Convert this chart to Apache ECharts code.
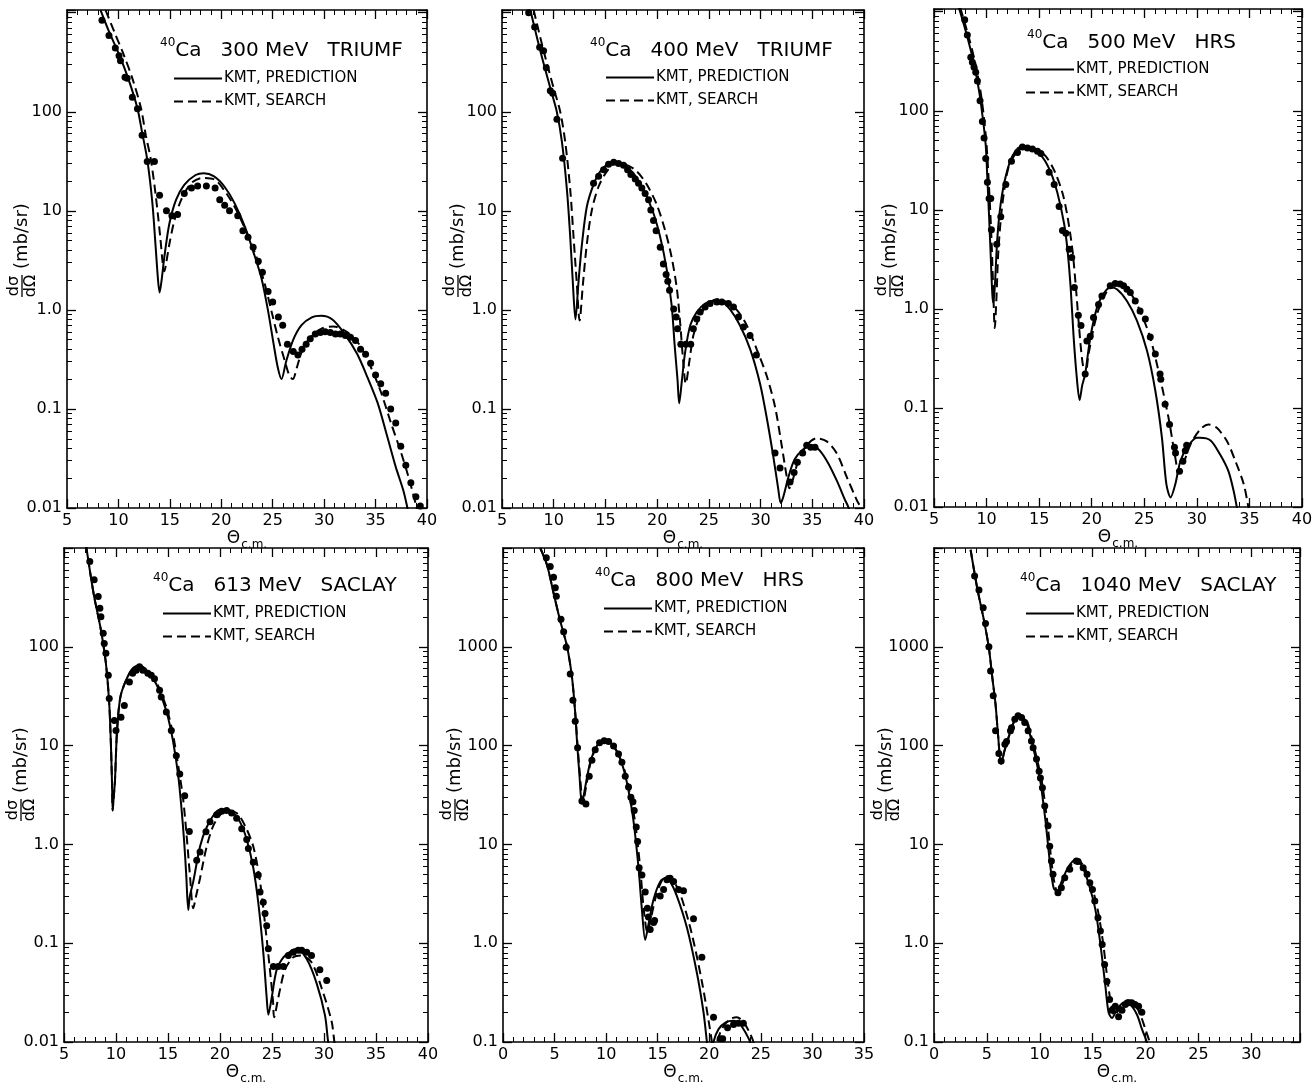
<!DOCTYPE html>
<html><head><meta charset="utf-8">
<script src="https://cdn.jsdelivr.net/npm/echarts@6/dist/echarts.min.js"></script>
<style>html,body{margin:0;padding:0;background:#fff}#c{width:1314px;height:1082px}</style>
</head><body><div id="c"></div>
<script>
// ---------- DATA (theta_cm [deg], dsigma/dOmega [mb/sr]) ----------
const p1Pred = [[8.26,1064],[9.1,640],[10.06,380],[11.0,210],[11.85,108],[12.3,62],[12.8,33],[13.3,12],[13.6,4.6],[13.85,2.0],[14.0,1.5],[14.2,2.0],[14.46,3.4],[14.95,7.4],[15.6,12.9],[16.4,18.3],[17.5,23],[18.3,24],[19.3,22.3],[20.3,17.6],[21.3,11.9],[22.3,6.9],[23.1,3.9],[23.9,2.1],[24.57,0.95],[25.06,0.47],[25.5,0.26],[25.85,0.2],[26.3,0.3],[27.0,0.5],[27.8,0.7],[28.8,0.84],[29.7,0.87],[30.8,0.8],[32.0,0.57],[33.2,0.36],[34.2,0.21],[35.2,0.115],[36.15,0.052],[36.96,0.026],[37.7,0.015],[38.1,0.01],[38.3,0.008]];
const p1Search = [[8.75,1064],[9.6,640],[10.5,380],[11.4,210],[12.2,108],[12.66,58],[13.15,33],[13.64,13.9],[14.07,5.4],[14.3,3.0],[14.46,2.45],[14.65,3.0],[14.95,4.6],[15.44,8],[16.1,12.9],[17.07,19],[18.2,21.5],[19.35,20.7],[20.5,15],[21.5,10],[22.45,6.1],[23.43,3.4],[24.24,1.8],[24.9,0.95],[25.55,0.51],[26.2,0.3],[26.6,0.22],[26.95,0.2],[27.34,0.26],[27.83,0.38],[28.65,0.53],[29.8,0.65],[30.9,0.68],[32.2,0.6],[33.4,0.45],[34.5,0.27],[35.5,0.15],[36.5,0.072],[37.45,0.037],[38.3,0.019],[39.0,0.01],[39.2,0.008]];
const p1Data = [[8.4,841],[9.08,590],[9.7,440],[10.06,367],[10.2,327],[10.64,223],[10.85,218],[11.35,140],[11.85,107],[12.3,58],[12.8,31.5],[13.5,31.5],[14.0,14.4],[14.67,10],[15.2,8.9],[15.75,9.2],[16.4,15],[17.1,17],[17.7,17.8],[18.55,17.8],[19.4,17],[19.85,12.9],[20.33,11.4],[20.8,10],[21.6,8.9],[22.1,6.3],[22.6,5.4],[23.1,4.3],[23.6,3.1],[24.0,2.4],[24.55,1.53],[25.0,1.2],[25.55,0.85],[25.97,0.70],[26.43,0.45],[27.0,0.38],[27.45,0.35],[27.85,0.40],[28.25,0.45],[28.65,0.51],[29.14,0.57],[29.63,0.59],[30.1,0.60],[30.6,0.59],[31.1,0.57],[31.58,0.57],[32.07,0.55],[32.56,0.53],[33.05,0.49],[33.54,0.40],[34.03,0.356],[34.52,0.29],[35.0,0.22],[35.5,0.18],[35.98,0.144],[36.47,0.1],[36.96,0.072],[37.45,0.042],[37.94,0.027],[38.43,0.018],[38.92,0.013],[39.35,0.0105]];

const p2Pred = [[7.74,1064],[8.7,413],[9.67,174],[10.3,100],[10.8,49],[11.28,16.2],[11.6,5.4],[11.86,1.8],[12.1,0.8],[12.4,1.94],[12.73,4.6],[13.2,11],[13.85,18.4],[14.5,25],[15.46,30.6],[15.95,31],[16.75,29.5],[17.7,24],[18.7,16.3],[19.65,9.4],[20.3,5.4],[20.9,2.66],[21.4,1.12],[21.7,0.43],[21.97,0.197],[22.13,0.114],[22.4,0.197],[22.7,0.37],[23.2,0.70],[23.83,0.95],[24.64,1.16],[25.44,1.22],[26.25,1.2],[27.05,1.01],[28.0,0.70],[29.0,0.40],[29.95,0.18],[30.6,0.081],[31.24,0.0327],[31.7,0.0158],[31.95,0.0112],[32.2,0.013],[32.7,0.0207],[33.3,0.031],[34.1,0.039],[34.8,0.042],[35.5,0.040],[36.4,0.03],[37.36,0.019],[38.16,0.0121],[38.5,0.0101],[38.7,0.008]];
const p2Search = [[8.06,1064],[9.02,413],[9.99,174],[10.63,100],[11.12,49],[11.6,16.2],[11.92,5.4],[12.24,1.8],[12.5,0.78],[12.82,1.8],[13.2,4.6],[13.69,10.2],[14.34,17.6],[15.14,25],[15.95,30],[16.9,29.5],[18.04,25],[19.0,18.4],[19.97,11.5],[20.78,6.3],[21.4,3.4],[21.9,1.66],[22.22,0.75],[22.48,0.34],[22.77,0.18],[23.13,0.31],[23.5,0.55],[24.16,0.88],[24.96,1.16],[25.77,1.28],[26.73,1.2],[27.7,1.0],[28.66,0.70],[29.63,0.40],[30.6,0.215],[31.4,0.105],[32.04,0.043],[32.53,0.0207],[32.78,0.0158],[33.1,0.019],[33.65,0.030],[34.46,0.043],[35.42,0.0505],[36.4,0.047],[37.36,0.0357],[38.32,0.0207],[39.29,0.0121],[39.67,0.0101],[39.9,0.008]];
const p2Data = [[7.58,1000],[8.16,718],[8.64,448],[9.02,413],[9.28,279],[9.67,163],[9.9,154],[10.31,84],[10.86,34],[13.85,19],[14.34,22.3],[14.82,26],[15.3,29.5],[15.8,31],[16.27,30],[16.75,28.8],[17.14,26],[17.46,23.2],[17.88,21],[18.2,19],[18.52,17],[18.84,15],[19.17,12.9],[19.39,10.2],[19.65,8],[19.9,6.3],[20.3,4.3],[20.6,2.9],[20.87,2.27],[21.03,1.95],[21.2,1.58],[21.6,1.02],[21.84,0.85],[21.97,0.645],[22.29,0.45],[22.77,0.45],[23.25,0.45],[23.5,0.645],[23.83,0.81],[24.16,0.95],[24.64,1.07],[25.12,1.16],[25.77,1.2],[26.25,1.2],[26.89,1.16],[27.38,1.07],[27.86,0.85],[28.34,0.67],[28.98,0.55],[29.6,0.35],[31.4,0.036],[31.88,0.0253],[32.85,0.0183],[33.24,0.0228],[33.56,0.0289],[34.07,0.036],[34.46,0.043],[34.85,0.041],[35.26,0.041]];

const p3Pred = [[7.38,1090],[8.17,557],[8.81,295],[9.29,158],[9.6,91],[9.92,45],[10.08,20],[10.24,8.6],[10.4,3.3],[10.55,1.39],[10.65,1.15],[10.81,1.9],[11.03,5.3],[11.35,11.7],[11.83,22],[12.46,35],[13.41,44],[14.36,41],[15.31,34],[16.11,23.8],[16.74,14.8],[17.38,7.2],[17.7,3.9],[18.0,1.62],[18.27,0.54],[18.55,0.22],[18.85,0.12],[19.1,0.17],[19.38,0.22],[19.86,0.51],[20.5,1.03],[21.1,1.41],[21.76,1.64],[22.4,1.58],[23.35,1.2],[24.3,0.76],[25.26,0.377],[26.05,0.149],[26.68,0.05],[27.1,0.017],[27.5,0.0125],[27.95,0.017],[28.43,0.029],[29.07,0.04],[30.0,0.05],[30.3,0.05],[31.3,0.047],[32.2,0.034],[33.0,0.023],[33.5,0.0145],[33.8,0.01],[34.0,0.008]];
const p3Search = [[7.5,1090],[8.3,557],[8.95,295],[9.42,158],[9.72,91],[10.0,45],[10.24,16.5],[10.46,5.3],[10.63,1.6],[10.78,0.64],[10.94,1.3],[11.1,3.5],[11.35,8],[11.67,15.5],[12.14,28],[12.94,39],[13.73,44],[14.68,41],[15.6,35],[16.43,25],[17.22,14.8],[17.7,8.5],[18.17,3.9],[18.5,1.62],[18.8,0.65],[19.1,0.3],[19.4,0.21],[19.7,0.35],[20.5,0.88],[21.3,1.41],[22.1,1.78],[22.9,1.78],[23.67,1.46],[24.6,0.95],[25.57,0.51],[26.5,0.2],[27.3,0.08],[27.95,0.0315],[28.27,0.022],[28.7,0.027],[29.4,0.043],[30.33,0.061],[31.1,0.068],[31.9,0.063],[32.87,0.046],[33.67,0.029],[34.46,0.017],[34.9,0.01],[35.1,0.008]];
const p3Data = [[7.92,828],[8.17,581],[8.5,347],[8.65,309],[8.81,275],[8.97,245],[9.13,200],[9.38,126],[9.6,78],[9.76,53],[9.92,33],[10.08,19],[10.24,13],[10.4,13],[10.46,6.3],[10.97,4.5],[11.35,8.5],[11.83,18],[12.37,31],[12.94,38],[13.41,43],[13.89,42],[14.36,41],[14.84,39],[15.16,37],[15.95,24],[16.43,18],[16.9,10.8],[17.22,6.2],[17.54,5.8],[17.86,4.0],[18.1,3.3],[18.35,1.64],[18.73,0.86],[18.98,0.68],[19.38,0.22],[19.54,0.475],[19.86,0.53],[20.17,0.82],[20.65,1.11],[20.97,1.35],[21.76,1.71],[22.24,1.8],[22.7,1.78],[23.03,1.71],[23.35,1.58],[23.67,1.46],[24.14,1.2],[24.6,0.95],[25.1,0.79],[25.57,0.52],[26.05,0.35],[26.5,0.22],[26.57,0.195],[26.98,0.109],[27.4,0.068],[27.87,0.04],[27.97,0.035],[28.35,0.023],[28.67,0.029],[28.9,0.037],[29.03,0.042]];

const p4Pred = [[7.1,1100],[7.5,580],[7.9,322],[8.55,148],[9.03,68],[9.35,26.5],[9.52,9.6],[9.62,4],[9.68,2.2],[9.78,3.0],[9.9,4.4],[10.1,14.2],[10.42,31],[10.97,46],[11.6,60],[12.26,65],[13.06,56],[13.87,42],[14.5,28.7],[15.0,19.4],[15.48,11.2],[15.97,5.1],[16.29,2.36],[16.55,1.08],[16.75,0.5],[16.95,0.217],[17.1,0.3],[17.43,0.42],[18.08,0.95],[18.72,1.49],[19.68,2.16],[20.32,2.25],[21.12,2.16],[21.92,1.69],[22.57,1.12],[23.2,0.58],[23.68,0.257],[24.16,0.081],[24.49,0.028],[24.65,0.0189],[24.97,0.028],[25.45,0.054],[26.09,0.072],[26.73,0.082],[27.37,0.088],[28.34,0.069],[29.3,0.039],[30.1,0.0185],[30.4,0.01],[30.6,0.008]];
const p4Search = [[7.1,1100],[7.5,580],[7.9,322],[8.55,148],[9.03,68],[9.35,26.5],[9.52,9.6],[9.62,4],[9.68,2.2],[9.78,3.0],[9.9,4.4],[10.1,14.2],[10.42,31],[10.97,46],[11.6,60],[12.26,64],[13.06,57],[13.87,44],[14.5,31],[15.0,21.5],[15.48,13],[15.97,6.4],[16.45,2.9],[16.8,1.2],[17.1,0.5],[17.43,0.226],[17.7,0.3],[18.08,0.455],[18.72,0.95],[19.36,1.55],[20.16,2.08],[20.6,2.2],[21.6,2.08],[22.4,1.55],[23.2,0.95],[23.85,0.42],[24.33,0.157],[24.8,0.054],[25.1,0.0257],[25.2,0.0178],[25.6,0.028],[26.25,0.054],[27.05,0.072],[27.86,0.075],[28.8,0.064],[29.78,0.035],[30.74,0.016],[31.0,0.01],[31.2,0.008]];
const p4Data = [[7.48,731],[7.9,476],[8.29,322],[8.45,245],[8.55,202],[8.77,137],[8.87,108],[9.03,86],[9.26,51.5],[9.35,30],[9.84,18],[10.0,14.2],[10.48,19.4],[10.8,25.5],[11.29,44],[11.6,54],[11.94,58],[12.26,63],[12.58,58],[13.06,54],[13.39,51.5],[13.7,47.6],[14.19,36.3],[14.35,31],[14.84,21.9],[15.32,14.2],[15.8,7.9],[16.13,5.15],[16.61,3.1],[17.05,1.35],[17.76,0.69],[18.08,0.84],[18.65,1.34],[19.04,1.7],[19.68,2.0],[20.16,2.16],[20.64,2.2],[21.12,2.08],[21.6,1.84],[22.09,1.44],[22.57,1.12],[22.73,0.91],[23.2,0.66],[23.68,0.49],[23.85,0.33],[24.16,0.26],[24.33,0.2],[24.49,0.15],[24.65,0.088],[25.13,0.058],[25.6,0.058],[26.09,0.058],[26.57,0.075],[27.05,0.081],[27.53,0.085],[27.85,0.085],[28.34,0.081],[28.8,0.075],[29.6,0.054],[30.26,0.042]];

const p5Pred = [[3.61,10000],[4.26,6760],[4.9,3510],[5.55,1820],[6.2,1020],[6.69,490],[7.0,216],[7.17,112],[7.42,49],[7.65,25.7],[7.97,38],[8.46,68],[9.1,99],[9.75,112],[10.4,107],[11.05,87],[11.69,58],[12.17,35],[12.66,17],[13.14,5.8],[13.47,2.17],[13.79,1.08],[14.11,1.57],[14.6,2.78],[15.24,4.2],[15.73,4.55],[16.2,4.2],[16.86,3.0],[17.83,1.44],[18.8,0.5],[19.44,0.2],[19.77,0.1],[19.95,0.07],[20.2,0.07],[20.4,0.1],[20.9,0.135],[21.6,0.158],[22.35,0.164],[23.0,0.15],[23.6,0.12],[23.96,0.1],[24.1,0.08]];
const p5Search = [[3.61,10000],[4.26,6760],[4.9,3510],[5.55,1820],[6.2,1020],[6.69,490],[7.0,216],[7.2,112],[7.47,49],[7.75,26.5],[8.05,38],[8.5,68],[9.1,99],[9.75,112],[10.4,107],[11.05,87],[11.75,58],[12.25,35],[12.8,17],[13.3,5.8],[13.65,2.17],[14.0,1.3],[14.3,1.7],[14.8,2.9],[15.4,4.3],[16.05,4.8],[16.7,4.0],[17.35,2.8],[18.3,1.25],[19.3,0.4],[19.95,0.16],[20.25,0.1],[20.4,0.07],[20.6,0.07],[20.75,0.1],[21.3,0.14],[22.0,0.17],[22.67,0.178],[23.3,0.16],[23.9,0.125],[24.28,0.1],[24.4,0.08]];
const p5Data = [[4.2,7950],[4.58,6480],[4.9,5070],[5.07,3970],[5.17,3240],[5.62,1900],[5.88,1420],[6.13,990],[6.52,530],[6.78,287],[7.0,176],[7.23,95],[7.65,27.5],[8.04,25.7],[8.36,49],[8.62,71],[8.94,91],[9.36,107],[9.81,112],[10.24,110],[10.72,99],[11.2,82],[11.53,68],[11.85,49],[12.17,38],[12.4,30],[12.6,27],[12.72,22],[12.92,15],[13.05,10.7],[13.2,5.8],[13.47,4.9],[13.79,3.3],[14.0,2.26],[14.1,1.84],[14.27,1.38],[14.6,1.62],[14.7,1.7],[15.24,3.0],[15.57,3.5],[15.89,4.4],[16.2,4.55],[16.54,4.2],[17.02,3.5],[17.5,3.4],[18.47,1.77],[19.28,0.72],[20.41,0.178],[21.06,0.108],[21.3,0.108],[21.77,0.139],[22.35,0.15],[22.83,0.155],[23.3,0.155]];

const p6Pred = [[3.46,9600],[4.09,3900],[4.72,1860],[5.19,970],[5.5,502],[5.82,260],[6.04,135],[6.35,65.5],[6.67,89],[7.08,124],[7.55,173],[8.08,204],[8.65,180],[9.12,124],[9.59,76],[10.06,43],[10.54,17.3],[11.0,6.0],[11.32,3.6],[11.64,3.36],[12.1,4.3],[12.74,6.0],[13.37,7.0],[14.0,6.0],[14.62,4.0],[15.25,2.2],[15.73,0.98],[16.2,0.37],[16.5,0.2],[16.82,0.175],[17.3,0.214],[17.92,0.25],[18.55,0.24],[19.18,0.19],[19.65,0.136],[20.12,0.1],[20.3,0.08]];
const p6Search = [[3.46,9600],[4.09,3900],[4.72,1860],[5.19,970],[5.5,502],[5.82,260],[6.04,135],[6.35,65.5],[6.67,89],[7.08,124],[7.55,173],[8.15,204],[8.75,180],[9.2,124],[9.7,76],[10.2,43],[10.7,17.3],[11.16,6.0],[11.5,3.6],[11.8,3.3],[12.25,4.3],[12.9,6.0],[13.53,7.0],[14.16,6.0],[14.84,4.0],[15.47,2.2],[16.0,0.98],[16.47,0.37],[16.85,0.21],[17.07,0.185],[17.64,0.23],[18.27,0.265],[18.9,0.25],[19.5,0.19],[19.97,0.136],[20.38,0.1],[20.5,0.08]];
const p6Data = [[3.84,5210],[4.25,3750],[4.65,2490],[4.87,1720],[5.19,1000],[5.35,568],[5.6,320],[5.82,141],[6.13,83],[6.35,70],[6.7,103],[6.86,110],[7.23,141],[7.33,152],[7.64,185],[7.95,200],[8.27,192],[8.58,171],[8.9,141],[9.21,111],[9.37,95],[9.69,73],[9.94,55],[10.06,47],[10.25,37.5],[10.47,24.5],[10.78,15.4],[10.94,9.6],[11.1,6.8],[11.25,5.0],[11.72,3.25],[12.04,3.65],[12.36,4.6],[12.83,5.6],[13.46,6.8],[13.62,6.7],[14.1,5.8],[14.47,5.0],[14.73,4.1],[14.98,3.5],[15.2,2.67],[15.5,1.81],[15.73,1.33],[15.9,0.97],[16.13,0.61],[16.35,0.41],[16.6,0.27],[16.82,0.21],[17.14,0.23],[17.45,0.18],[17.77,0.21],[18.08,0.24],[18.4,0.25],[18.7,0.25],[19.0,0.24],[19.34,0.23],[19.65,0.2]];

// tick labels
const yTickValsA = [0.01, 0.1, 1, 10, 100];
const yTickTextA = ['0.01', '0.1', '1.0', '10', '100'];
const yTickValsB = [0.1, 1, 10, 100, 1000];
const yTickTextB = ['0.1', '1.0', '10', '100', '1000'];
const panelTitles = ['300 MeV   TRIUMF', '400 MeV   TRIUMF', '500 MeV   HRS', '613 MeV   SACLAY', '800 MeV   HRS', '1040 MeV   SACLAY'];
const seriesNames = ['KMT, PREDICTION', 'KMT, SEARCH'];

// ---------- LAYOUT ----------
const FONT = '"DejaVu Sans", "Liberation Sans", sans-serif';
const panels = [
  {pred: p1Pred, search: p1Search, data: p1Data, xMin: 5, xMax: 40, yMin: 0.01, yMax: 1065, tv: yTickValsA, tt: yTickTextA,
   grid: {left: 67, top: 10, width: 360, height: 498}, title: [155, 32], legend: [168, 66], yname: [22, 240]},
  {pred: p2Pred, search: p2Search, data: p2Data, xMin: 5, xMax: 40, yMin: 0.01, yMax: 1065, tv: yTickValsA, tt: yTickTextA,
   grid: {left: 502, top: 10, width: 362, height: 498}, title: [585, 32], legend: [600, 65], yname: [458, 240]},
  {pred: p3Pred, search: p3Search, data: p3Data, xMin: 5, xMax: 40, yMin: 0.01, yMax: 1065, tv: yTickValsA, tt: yTickTextA,
   grid: {left: 934, top: 9, width: 368, height: 498}, title: [1022, 24], legend: [1020, 57], yname: [890, 240]},
  {pred: p4Pred, search: p4Search, data: p4Data, xMin: 5, xMax: 40, yMin: 0.01, yMax: 1000, tv: yTickValsA, tt: yTickTextA,
   grid: {left: 64, top: 548, width: 364, height: 494}, title: [148, 567], legend: [157, 601], yname: [21, 764]},
  {pred: p5Pred, search: p5Search, data: p5Data, xMin: 0, xMax: 35, yMin: 0.1, yMax: 10000, tv: yTickValsB, tt: yTickTextB,
   grid: {left: 503, top: 548, width: 361, height: 494}, title: [590, 562], legend: [598, 596], yname: [455, 764]},
  {pred: p6Pred, search: p6Search, data: p6Data, xMin: 0, xMax: 34.6, yMin: 0.1, yMax: 10000, tv: yTickValsB, tt: yTickTextB,
   grid: {left: 934, top: 548, width: 366, height: 494}, title: [1015, 567], legend: [1020, 601], yname: [886, 764]}
];

// minor log ticks at 2..9 x 10^k inside the axis range
function logMinor(lo, hi) {
  const out = [];
  for (let k = Math.floor(Math.log10(lo)) - 1; k <= Math.ceil(Math.log10(hi)); k++) {
    for (let m = 2; m <= 9; m++) {
      const v = m * Math.pow(10, k);
      if (v > lo * 1.0001 && v < hi * 0.9999) out.push(v);
    }
  }
  return out;
}

const AX = {color: '#000', width: 1.6};
const grids = [], xAxes = [], yAxes = [], series = [], titles = [], legends = [], graphics = [];

panels.forEach((p, i) => {
  grids.push(Object.assign({outerBoundsMode: 'none', containLabel: false, show: false}, p.grid));
  const xBase = {
    gridIndex: i, type: 'value', min: p.xMin, max: p.xMax, interval: 5,
    axisLine: {show: true, onZero: false, lineStyle: AX},
    axisTick: {show: true, inside: true, length: 9, lineStyle: {color: '#000', width: 1.3}},
    minorTick: {show: true, splitNumber: 5, length: 5, lineStyle: {color: '#000', width: 1}},
    splitLine: {show: false}, minorSplitLine: {show: false}
  };
  xAxes.push(Object.assign({}, xBase, {
    position: 'bottom',
    axisLabel: {color: '#000', fontSize: 16, fontFamily: FONT, margin: 5,
      showMinLabel: true, showMaxLabel: true,
      formatter: v => (Math.abs(v / 5 - Math.round(v / 5)) < 1e-6 ? String(Math.round(v)) : '')},
    name: '{t|Θ}{s|c.m.}', nameLocation: 'middle', nameGap: 9,
    nameTextStyle: {rich: {
      t: {fontSize: 17, fontFamily: FONT, color: '#000', lineHeight: 20, verticalAlign: 'bottom'},
      s: {fontSize: 12, fontFamily: FONT, color: '#000', lineHeight: 12, verticalAlign: 'bottom', padding: [0, 0, -4, 1]}
    }}
  }));
  xAxes.push(Object.assign({}, xBase, {position: 'top', axisLabel: {show: false}}));

  const yBase = {
    gridIndex: i, type: 'log', logBase: 10, min: p.yMin, max: p.yMax,
    axisLine: {show: true, lineStyle: AX},
    axisTick: {show: true, inside: true, length: 9, lineStyle: {color: '#000', width: 1.3}},
    splitLine: {show: false}, minorSplitLine: {show: false}
  };
  const yMinorBase = {
    gridIndex: i, type: 'log', logBase: 10, min: p.yMin, max: p.yMax,
    axisLine: {show: false}, axisLabel: {show: false}, splitLine: {show: false},
    axisTick: {show: true, inside: true, length: 5, customValues: logMinor(p.yMin, p.yMax), lineStyle: {color: '#000', width: 1}}
  };
  yAxes.push(Object.assign({}, yBase, {
    position: 'left',
    axisLabel: {color: '#000', fontSize: 16, fontFamily: FONT, margin: 5, showMinLabel: true,
      formatter: v => {
        const lv = Math.log10(v);
        for (let k = 0; k < p.tv.length; k++) {
          if (Math.abs(lv - Math.log10(p.tv[k])) < 0.03) return p.tt[k];
        }
        return '';
      }}
  }));
  yAxes.push(Object.assign({}, yMinorBase, {position: 'left'}));
  yAxes.push(Object.assign({}, yBase, {position: 'right', axisLabel: {show: false}}));
  yAxes.push(Object.assign({}, yMinorBase, {position: 'right'}));

  series.push({type: 'line', name: seriesNames[0], xAxisIndex: 2 * i, yAxisIndex: 4 * i, data: p.pred,
    symbol: 'none', smooth: 0.3, clip: true, lineStyle: {color: '#000', width: 2}, itemStyle: {color: '#000'}, z: 3});
  series.push({type: 'line', name: seriesNames[1], xAxisIndex: 2 * i, yAxisIndex: 4 * i, data: p.search,
    symbol: 'none', smooth: 0.3, clip: true, lineStyle: {color: '#000', width: 2, type: [9, 5]}, itemStyle: {color: '#000'}, z: 3});
  series.push({type: 'scatter', name: 'data', xAxisIndex: 2 * i, yAxisIndex: 4 * i, data: p.data,
    symbol: 'circle', symbolSize: 7, clip: true, itemStyle: {color: '#000', opacity: 1}, z: 4});

  titles.push({
    left: p.title[0], top: p.title[1],
    text: '{s|40}{m|Ca   ' + panelTitles[i] + '}',
    textStyle: {fontWeight: 'normal', rich: {
      s: {fontSize: 12, fontFamily: FONT, fontWeight: 'normal', color: '#000', verticalAlign: 'top', lineHeight: 14},
      m: {fontSize: 20, fontFamily: FONT, fontWeight: 'normal', color: '#000', lineHeight: 24, verticalAlign: 'bottom'}
    }}
  });
  legends.push({
    data: seriesNames, orient: 'vertical', left: p.legend[0], top: p.legend[1],
    itemWidth: 48, itemHeight: 14, itemGap: 8, selectedMode: false,
    itemStyle: {color: 'rgba(0,0,0,0)', borderWidth: 0, opacity: 0},
    textStyle: {fontSize: 15, fontFamily: FONT, color: '#000', padding: [0, 0, 0, -3]}
  });
  graphics.push({
    type: 'group', x: p.yname[0], y: p.yname[1], rotation: Math.PI / 2,
    children: [
      {type: 'text', x: -46, y: -8, style: {text: 'dσ', font: '16px ' + FONT, fill: '#000', align: 'center', verticalAlign: 'middle'}},
      {type: 'line', shape: {x1: -57, y1: 0, x2: -35, y2: 0}, style: {stroke: '#000', lineWidth: 1.3}},
      {type: 'text', x: -46, y: 9, style: {text: 'dΩ', font: '16px ' + FONT, fill: '#000', align: 'center', verticalAlign: 'middle'}},
      {type: 'text', x: -29, y: 0, style: {text: '(mb/sr)', font: '18px ' + FONT, fill: '#000', align: 'left', verticalAlign: 'middle'}}
    ]
  });
});

const chart = echarts.init(document.getElementById('c'), null, {renderer: 'canvas'});
chart.setOption({
  animation: false,
  backgroundColor: '#fff',
  grid: grids, xAxis: xAxes, yAxis: yAxes, series: series,
  title: titles, legend: legends, graphic: graphics
});
</script>
</body></html>
